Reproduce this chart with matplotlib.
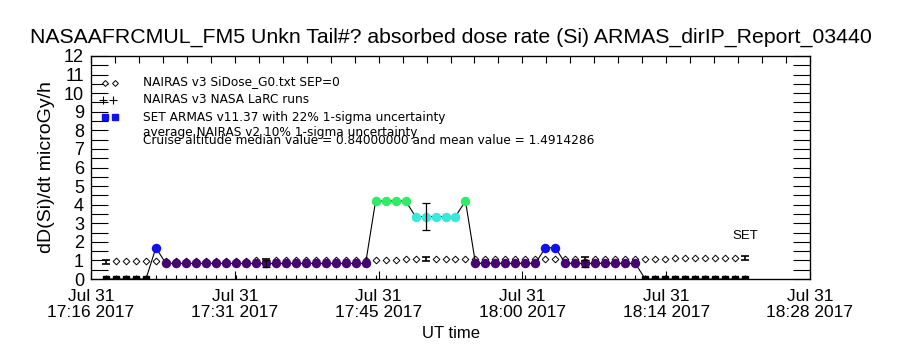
import matplotlib
matplotlib.use("Agg")
import matplotlib.pyplot as plt
from matplotlib.ticker import MultipleLocator, FixedLocator

# minutes after 17:16 UT, one sample per minute
minutes = [1.5, 2.5, 3.5, 4.5, 5.5, 6.5, 7.5, 8.5, 9.5, 10.5,
           11.5, 12.5, 13.5, 14.5, 15.5, 16.5, 17.5, 18.5, 19.5, 20.5,
           21.5, 22.5, 23.5, 24.5, 25.5, 26.5, 27.5, 28.5, 29.5, 30.5,
           31.5, 32.5, 33.5, 34.5, 35.5, 36.5, 37.5, 38.5, 39.5, 40.5,
           41.5, 42.5, 43.5, 44.5, 45.5, 46.5, 47.5, 48.5, 49.5, 50.5,
           51.5, 52.5, 53.5, 54.5, 55.5, 56.5, 57.5, 58.5, 59.5, 60.5,
           61.5, 62.5, 63.5, 64.5, 65.5]

# ARMAS dose rate (microGy/h)
armas = [0, 0, 0, 0, 0, 1.68, 0.84, 0.84, 0.84, 0.84,
         0.84, 0.84, 0.84, 0.84, 0.84, 0.84, 0.84, 0.84, 0.84, 0.84,
         0.84, 0.84, 0.84, 0.84, 0.84, 0.84, 0.84, 4.2, 4.2, 4.2,
         4.2, 3.36, 3.36, 3.36, 3.36, 3.36, 4.2, 0.84, 0.84, 0.84,
         0.84, 0.84, 0.84, 0.84, 1.68, 1.68, 0.84, 0.84, 0.84, 0.84,
         0.84, 0.84, 0.84, 0.84, 0, 0, 0, 0, 0, 0,
         0, 0, 0, 0, 0]

# NAIRAS v3 model dose rate
nairas = [0.91, 0.95, 0.95, 0.95, 0.95, 0.96, 0.98, 0.98, 0.98, 0.98,
          0.98, 0.98, 0.98, 0.99, 0.99, 1.0, 1.0, 1.01, 1.01, 1.02,
          1.02, 1.02, 1.02, 1.02, 1.03, 1.03, 1.03, 1.03, 1.03, 1.03,
          1.05, 1.05, 1.06, 1.06, 1.06, 1.06, 1.06, 1.07, 1.07, 1.07,
          1.07, 1.07, 1.07, 1.07, 1.07, 1.08, 1.08, 1.08, 1.08, 1.08,
          1.08, 1.09, 1.09, 1.09, 1.1, 1.1, 1.1, 1.11, 1.11, 1.11,
          1.12, 1.12, 1.12, 1.13, 1.14]

errbar_idx = [0, 16, 32, 48, 64]
armas_unc = 0.22
nairas_unc = 0.10

tick_pos = [0, 14.4, 28.8, 43.2, 57.6, 72]
tick_labels = ["Jul 31\n17:16 2017", "Jul 31\n17:31 2017", "Jul 31\n17:45 2017",
               "Jul 31\n18:00 2017", "Jul 31\n18:14 2017", "Jul 31\n18:28 2017"]

median_val = 0.84
mean_val = 1.4914286

level_colors = {0: "black", 0.84: "#460670", 1.68: "#1010f0",
                3.36: "#3ae8dc", 4.2: "#33ea66"}

narrow = "Liberation Sans"
plt.rcParams["font.family"] = ["DejaVu Sans"]

fig = plt.figure(figsize=(9, 3.5), dpi=100)
ax = fig.add_axes([91 / 900, 71 / 350, 719 / 900, 223 / 350])
ax.set_xlim(0, 72)
ax.set_ylim(0, 12)

# NAIRAS diamonds (errorbar points drawn as bars only)
nx = [m for i, m in enumerate(minutes) if i not in errbar_idx]
ny = [v for i, v in enumerate(nairas) if i not in errbar_idx]
ax.plot(nx, ny, linestyle="none", marker="D", markersize=3.4,
        markerfacecolor="white", markeredgecolor="black", markeredgewidth=0.7, zorder=2)
ex = [minutes[i] for i in errbar_idx]
ey = [nairas[i] for i in errbar_idx]
ax.errorbar(ex, ey, yerr=[v * nairas_unc for v in ey], fmt="none",
            ecolor="black", elinewidth=1.2, capsize=2.6, capthick=1.2, zorder=4)

# ARMAS line and points
ax.plot(minutes, armas, color="black", lw=0.8, zorder=3)
for level, col in level_colors.items():
    px = [m for m, a in zip(minutes, armas) if a == level]
    py = [a for a in armas if a == level]
    if level == 0:
        ax.plot(px, py, linestyle="none", marker="s", markersize=5,
                color=col, zorder=5)
    else:
        ax.plot(px, py, linestyle="none", marker="o", markersize=5.8,
                color=col, zorder=5)
big = [i for i in errbar_idx if armas[i] > 0]
ax.errorbar([minutes[i] for i in big], [armas[i] for i in big],
            yerr=[armas[i] * armas_unc for i in big], fmt="none",
            ecolor="black", elinewidth=0.9, capsize=2.8, capthick=0.9, zorder=6)

ax.text(minutes[-1], 2.3, "SET", ha="center", va="center", fontsize=9.5, family=narrow)

# legend block
ax.plot([1.4, 2.4], [10.55, 10.55], linestyle="none", marker="D", markersize=3,
        markerfacecolor="white", markeredgecolor="black", markeredgewidth=0.7)
ax.plot([1.2, 2.2], [9.63, 9.63], linestyle="none", marker="+", markersize=6,
        color="black", markeredgewidth=0.8)
ax.plot([1.4, 2.4], [8.72, 8.72], linestyle="none", marker="s", markersize=4,
        color="#1010f0")
lg = dict(fontsize=8.7, va="center")
ax.text(5.2, 10.6, "NAIRAS v3 SiDose_G0.txt SEP=0", **lg)
ax.text(5.2, 9.65, "NAIRAS v3 NASA LaRC runs", **lg)
ax.text(5.2, 8.7, "SET ARMAS v11.37 with 22% 1-sigma uncertainty", **lg)
ax.text(5.2, 7.86, "average NAIRAS v2 10% 1-sigma uncertainty", **lg)
ax.text(5.2, 7.43, "Cruise altitude median value = %.8f and mean value = %.7f"
        % (median_val, mean_val), **lg)

# axes styling
for s in ax.spines.values():
    s.set_linewidth(0.9)
ax.set_xticks(tick_pos)
ax.set_xticklabels(tick_labels, fontsize=12.5, family=narrow, linespacing=1.1)
ax.xaxis.set_minor_locator(FixedLocator(minutes))
ax.tick_params(axis="x", which="major", direction="in", length=6, width=0.8, pad=7)
ax.tick_params(axis="x", which="minor", direction="in", length=3, width=0.8)
ax.yaxis.set_major_locator(MultipleLocator(1))
ax.yaxis.set_minor_locator(MultipleLocator(0.5))
ax.tick_params(axis="y", which="both", direction="in", length=12, width=0.8,
               right=True, labelsize=13, pad=5)
for lab in ax.get_yticklabels():
    lab.set_family(narrow)

top = ax.twiny()
top.set_xlim(0, 72)
top.xaxis.set_major_locator(MultipleLocator(2.4))
top.tick_params(axis="x", direction="in", length=5, width=0.8, labeltop=False)

ax.set_ylabel("dD(Si)/dt microGy/h", fontsize=14, family=narrow)
ax.yaxis.set_label_coords(-0.05, 0.5)
ax.set_xlabel("UT time", fontsize=12, family=narrow)
ax.xaxis.set_label_coords(0.5, -0.21)

fig.text(0.501, 0.894, "NASAAFRCMUL_FM5 Unkn Tail#? absorbed dose rate (Si) ARMAS_dirIP_Report_03440",
         ha="center", va="center", fontsize=15.3, family=narrow)

fig.savefig("out.png", dpi=100)
